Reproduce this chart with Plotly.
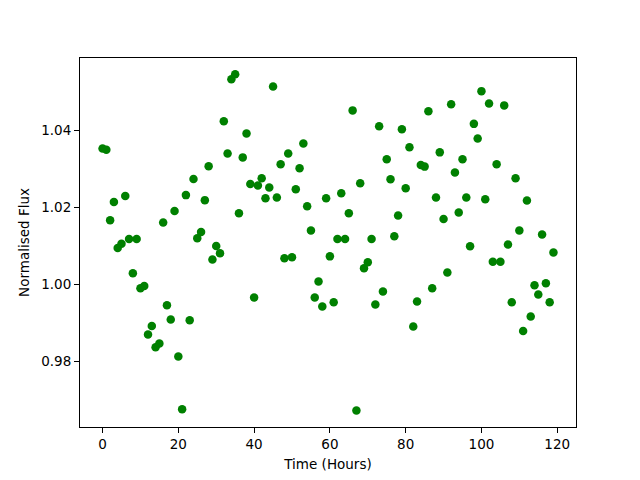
import plotly.graph_objects as go

hours = list(range(120))
flux = [
    1.0352, 1.0349, 1.0166, 1.0213, 1.0094, 1.0105, 1.0229, 1.0117, 1.0028, 1.0117,
    0.9989, 0.9995, 0.9869, 0.9891, 0.9836, 0.9846, 1.0160, 0.9945, 0.9908, 1.0190,
    0.9812, 0.9675, 1.0231, 0.9906, 1.0273, 1.0119, 1.0135, 1.0218, 1.0306, 1.0064,
    1.0099, 1.0080, 1.0423, 1.0339, 1.0532, 1.0545, 1.0184, 1.0329, 1.0391, 1.0260,
    0.9965, 1.0256, 1.0275, 1.0223, 1.0251, 1.0513, 1.0225, 1.0311, 1.0067, 1.0339,
    1.0070, 1.0246, 1.0301, 1.0365, 1.0202, 1.0139, 0.9965, 1.0007, 0.9942, 1.0223,
    1.0072, 0.9953, 1.0117, 1.0236, 1.0117, 1.0184, 1.0451, 0.9672, 1.0262, 1.0041,
    1.0057, 1.0117, 0.9947, 1.0410, 0.9981, 1.0324, 1.0272, 1.0124, 1.0178, 1.0402,
    1.0249, 1.0355, 0.9890, 0.9955, 1.0309, 1.0305, 1.0449, 0.9989, 1.0225, 1.0342,
    1.0169, 1.0030, 1.0467, 1.0290, 1.0186, 1.0324, 1.0225, 1.0098, 1.0416, 1.0378,
    1.0501, 1.0220, 1.0469, 1.0058, 1.0311, 1.0058, 1.0464, 1.0103, 0.9953, 1.0275,
    1.0139, 0.9878, 1.0217, 0.9916, 0.9997, 0.9973, 1.0129, 1.0002, 0.9953, 1.0082,
]
x_ticks = [0, 20, 40, 60, 80, 100, 120]
y_ticks = [0.98, 1.00, 1.02, 1.04]

fig = go.Figure(go.Scatter(
    x=hours, y=flux, mode="markers",
    marker=dict(color="#008000", size=8.5, line=dict(width=0)),
))

axis_common = dict(
    showline=True, linecolor="black", linewidth=1, mirror=True,
    ticks="outside", ticklen=5, tickcolor="black", tickwidth=1,
    showgrid=False, zeroline=False,
    tickfont=dict(family="DejaVu Sans", size=13.5, color="black"),
    title_font=dict(family="DejaVu Sans", size=13.5, color="black"),
)

fig.update_layout(
    width=640, height=480,
    margin=dict(l=72, r=72, t=50, b=61),
    paper_bgcolor="white", plot_bgcolor="white",
    showlegend=False,
    xaxis=dict(range=[-5.95, 124.95], tickvals=x_ticks,
               title=dict(text="Time (Hours)", standoff=8), **axis_common),
    yaxis=dict(range=[0.9629, 1.0587], tickvals=y_ticks, tickformat=".2f",
               title=dict(text="Normalised Flux", standoff=8), **axis_common),
)

fig.write_html("out.html")
